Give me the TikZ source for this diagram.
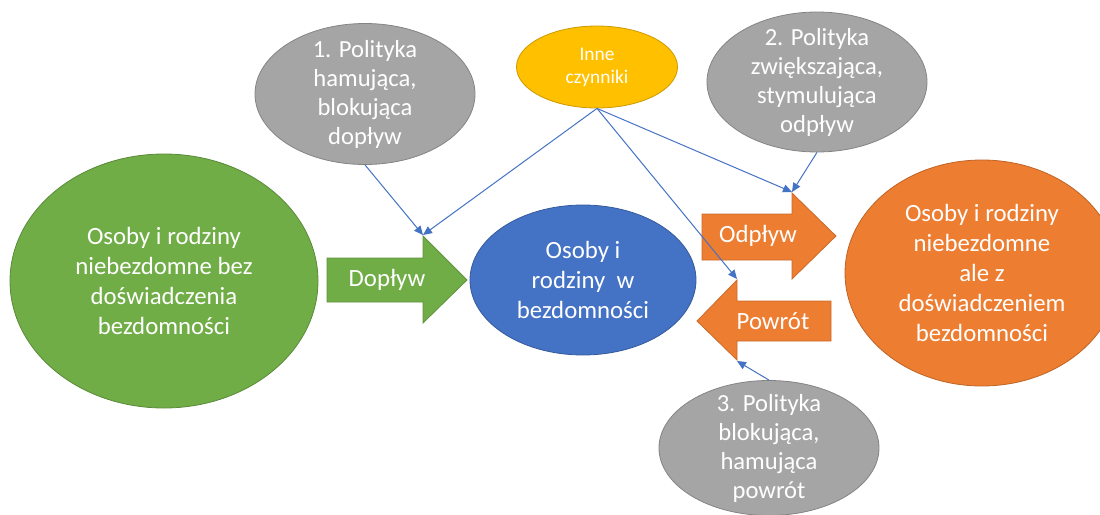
\documentclass[tikz,border=0pt]{standalone}
\usepackage{fontspec}
\setmainfont{Carlito}
\usetikzlibrary{shapes.geometric,arrows.meta}
\definecolor{zielony}{HTML}{70AD47}
\definecolor{niebieski}{HTML}{4472C4}
\definecolor{pomarancz}{HTML}{ED7D31}
\definecolor{szary}{HTML}{A5A5A5}
\definecolor{zolty}{HTML}{FFC000}
\tikzset{
  balon/.style={ellipse, draw=#1!80!black, line width=.4pt, fill=#1, text=white,
    align=center, inner sep=-8pt, font=\fontsize{12.4}{15}\selectfont},
  strzalka/.style={fill=#1, draw=#1!85!black, line width=.4pt},
  napis/.style={text=white, font=\fontsize{12.4}{15}\selectfont},
  linia/.style={draw=niebieski, line width=.5pt, -{Triangle[length=4.5pt,width=4pt]}}
}
\begin{document}
\begin{tikzpicture}[x=.5pt,y=-.5pt]
\useasboundingbox (0,0) rectangle (1100,515);
\node[balon=zielony, minimum width=154pt, minimum height=127pt] (bez) at (164,281) {Osoby i rodziny\\niebezdomne bez\\doświadczenia\\bezdomności};
\node[balon=niebieski, minimum width=113pt, minimum height=75pt] (w) at (583,280) {Osoby i\\rodziny\ \ w\\bezdomności};
\node[balon=pomarancz, minimum width=137pt, minimum height=113pt] (zdos) at (982,273) {Osoby i rodziny\\niebezdomne\\ale z\\doświadczeniem\\bezdomności};
\node[balon=szary, minimum width=110pt, minimum height=70.5pt, font=\fontsize{12.3}{14.5}\selectfont] (pol1) at (365,94) {1. Polityka\\hamująca,\\blokująca\\dopływ};
\node[balon=szary, minimum width=110pt, minimum height=70pt, font=\fontsize{12.3}{14.5}\selectfont] (pol2) at (817,82) {2. Polityka\\zwiększająca,\\stymulująca\\odpływ};
\node[balon=szary, minimum width=110pt, minimum height=67.5pt, font=\fontsize{12.3}{14.5}\selectfont] (pol3) at (769,448) {3. Polityka\\blokująca,\\hamująca\\powrót};
\node[balon=zolty, minimum width=80.5pt, minimum height=41pt, font=\fontsize{9.7}{11.5}\selectfont] (inne) at (597,67) {Inne\\czynniki};
\filldraw[strzalka=zielony] (327,258) -- (423,258) -- (423,236) -- (467,280) -- (423,323) -- (423,302) -- (327,302) -- cycle;
\node[napis] (doplyw) at (387,280) {Dopływ};
\coordinate (doplywG) at (423,235);
\filldraw[strzalka=pomarancz] (702,214) -- (792,214) -- (792,193) -- (836,236) -- (792,279) -- (792,260) -- (702,260) -- cycle;
\node[napis] (odplyw) at (758,236) {Odpływ};
\coordinate (odplywG) at (792,192);
\filldraw[strzalka=pomarancz] (831,301) -- (737,301) -- (737,280) -- (697,321) -- (737,360) -- (737,341) -- (831,341) -- cycle;
\node[napis] (powrot) at (773,321) {Powrót};
\coordinate (powrotG) at (737,279);
\coordinate (powrotD) at (737,361);
\draw[linia] (pol1.south) -- (doplywG);
\draw[linia] (inne.south) -- (doplywG);
\draw[linia] (inne.south) -- (odplywG);
\draw[linia] (pol2.south) -- (odplywG);
\draw[linia] (inne.south) -- (powrotG);
\draw[linia] (pol3.north) -- (powrotD);
\end{tikzpicture}
\end{document}
